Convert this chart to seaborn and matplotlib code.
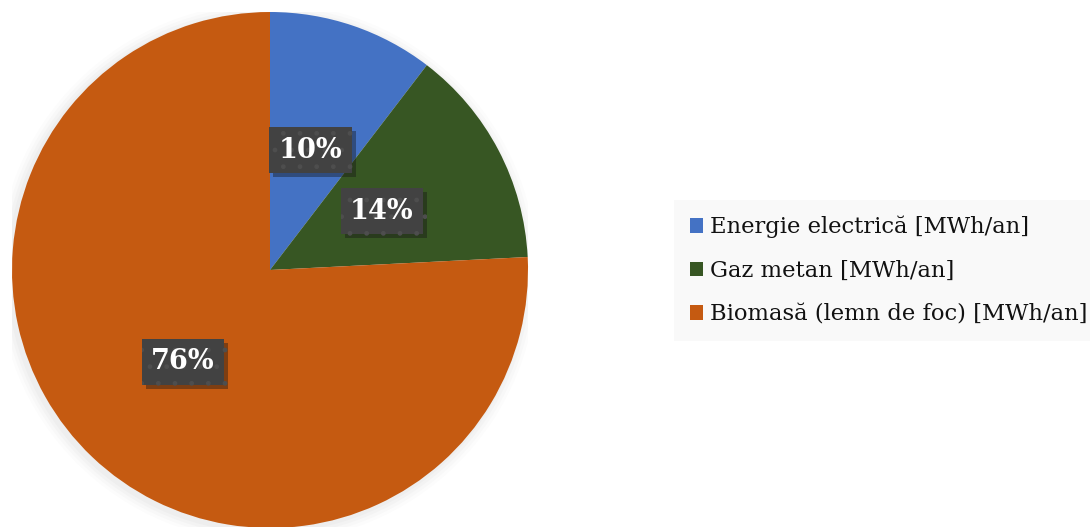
import matplotlib
matplotlib.use("Agg")
import matplotlib.pyplot as plt
import matplotlib.patheffects as pe
from matplotlib.patches import Patch, Circle
import seaborn as sns

# Annual energy consumption by source
categories = ["Energie electrică [MWh/an]", "Gaz metan [MWh/an]", "Biomasă (lemn de foc) [MWh/an]"]
shares = [10.4, 13.8, 75.8]
colors = ["#4472C4", "#375623", "#C55A11"]

sns.set_theme(style="white")
plt.rcParams["font.family"] = ["DejaVu Serif", "DejaVu Sans"]

W, H, DPI = 1090, 527, 100
fig = plt.figure(figsize=(W / DPI, H / DPI), dpi=DPI)
fig.patch.set_facecolor("white")

# pie axes: centre (270, 270) px, radius 258 px
cx, cy, r = 270, 270, 258
ax = fig.add_axes([(cx - r) / W, (H - cy - r) / H, 2 * r / W, 2 * r / H])
ax.set_facecolor("none")

# soft halo behind the pie
for k, a in enumerate([0.025, 0.03, 0.035, 0.04]):
    ax.add_patch(Circle((-0.01, -0.01), 1.045 - 0.012 * k, color="#808080",
                        alpha=a, lw=0, zorder=0))

wedges, texts, autotexts = ax.pie(
    shares, colors=colors, startangle=90, counterclock=False,
    autopct=lambda p: f"{p:.0f}%", pctdistance=0.49,
    wedgeprops=dict(linewidth=0),
    textprops=dict(color="white", fontsize=19.5, fontweight="bold"),
)
for t in autotexts:
    t.set_bbox(dict(boxstyle="square,pad=0.35", facecolor="#424242",
                    edgecolor="#4e4e4e", hatch=".", linewidth=0))
    t.get_bbox_patch().set_path_effects(
        [pe.SimplePatchShadow(offset=(3, -3), alpha=0.4), pe.Normal()])
    t.set_zorder(5)

ax.set_xlim(-1, 1)
ax.set_ylim(-1, 1)
ax.set_aspect("equal")
ax.axis("off")

handles = [Patch(facecolor=c, edgecolor="none") for c in colors]
leg = fig.legend(
    handles, categories, loc="upper left",
    bbox_to_anchor=(674 / W, 1 - 200 / H), bbox_transform=fig.transFigure,
    frameon=True, fancybox=False, fontsize=16.3,
    handlelength=0.6, handleheight=0.6, handletextpad=0.3,
    labelspacing=0.95, borderpad=0.7, borderaxespad=0,
)
frame = leg.get_frame()
frame.set_facecolor("#F8F8F8")
frame.set_edgecolor("none")
for txt in leg.get_texts():
    txt.set_color("#111111")

fig.savefig("out.png", dpi=DPI)
